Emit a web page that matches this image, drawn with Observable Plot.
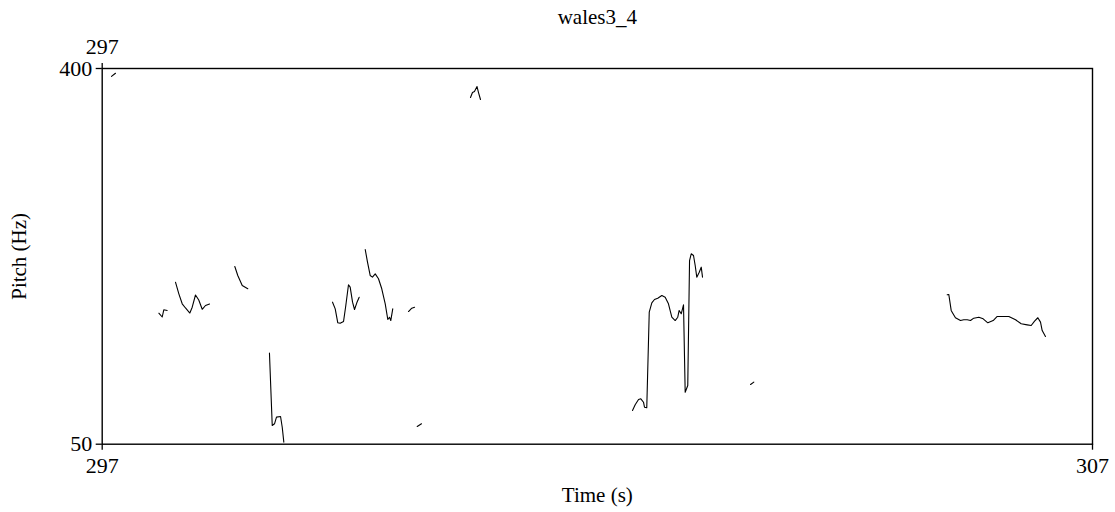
<!DOCTYPE html>
<html>
<head>
<meta charset="utf-8">
<script src="https://cdn.jsdelivr.net/npm/d3@7"></script>
<script src="https://cdn.jsdelivr.net/npm/@observablehq/plot@0.6"></script>
<style>
  html, body { margin: 0; padding: 0; background: #fff; }
  svg { display: block; }
</style>
</head>
<body>
<div id="chart"></div>
<script>
const title = "wales3_4";
const xLabel = "Time (s)";
const yLabel = "Pitch (Hz)";
const xTicks = [297, 307];
const yTicks = [50, 400];
const topTicks = [297];

// Pitch contour segments (time in s, pitch in Hz)
const segA = { t: [297.094, 297.134], f: [392.6, 395.6] };
const segB = { t: [297.572, 297.606, 297.622, 297.656], f: [172.0, 168.5, 175.2, 174.6] };
const segC = {
  t: [297.740, 297.774, 297.808, 297.841, 297.885, 297.909, 297.942, 297.975, 298.010, 298.043, 298.084],
  f: [200.9, 190.1, 180.8, 176.9, 172.2, 177.6, 189.0, 184.3, 175.7, 179.2, 180.6]
};
const segD = { t: [298.339, 298.369, 298.414, 298.470], f: [215.5, 207.2, 197.8, 194.8] };
const segE = {
  t: [298.689, 298.717, 298.740, 298.760, 298.801, 298.818, 298.834],
  f: [134.8, 67.4, 69.0, 75.2, 75.8, 65.8, 51.9]
};
const segF = {
  t: [299.326, 299.353, 299.379, 299.403, 299.437, 299.460, 299.487, 299.504, 299.528, 299.548, 299.571, 299.595],
  f: [182.3, 176.1, 163.1, 162.7, 164.3, 179.2, 198.5, 196.3, 182.3, 175.5, 181.7, 186.9]
};
const segG = {
  t: [299.656, 299.679, 299.706, 299.729, 299.757, 299.790, 299.823, 299.858, 299.884, 299.901, 299.914, 299.934],
  f: [231.4, 219.6, 207.2, 205.6, 208.7, 204.1, 194.8, 180.8, 166.2, 168.3, 165.2, 176.1]
};
const segH = { t: [300.093, 300.126, 300.154], f: [173.6, 176.7, 177.6] };
const segI = { t: [300.181, 300.224], f: [66.5, 69.0] };
const segJ = {
  t: [300.719, 300.739, 300.759, 300.785, 300.800, 300.820],
  f: [373.0, 377.6, 378.6, 383.2, 377.6, 371.1]
};
const segK = {
  t: [302.355, 302.382, 302.416, 302.439, 302.466, 302.476, 302.499, 302.524, 302.550, 302.577, 302.610,
      302.651, 302.685, 302.718, 302.752, 302.786, 302.812, 302.826, 302.847, 302.870, 302.887, 302.913,
      302.931, 302.948, 302.971, 302.988, 303.004, 303.029, 303.049, 303.062],
  f: [81.4, 86.7, 91.6, 92.3, 89.1, 84.5, 83.9, 173.0, 181.7, 184.8, 186.0,
      188.5, 186.9, 180.8, 168.3, 165.2, 168.3, 174.6, 171.5, 179.9, 98.4, 104.7,
      221.1, 227.4, 225.8, 216.5, 205.6, 210.2, 214.9, 205.6]
};
const segL = { t: [303.547, 303.580], f: [105.6, 107.8] };
const segM = {
  t: [305.533, 305.549, 305.573, 305.583, 305.616, 305.667, 305.700, 305.735, 305.768, 305.801, 305.852,
      305.896, 305.943, 305.997, 306.038, 306.088, 306.155, 306.223, 306.280, 306.341, 306.381, 306.415,
      306.448, 306.475, 306.492, 306.525],
  f: [189.2, 189.5, 174.6, 173.0, 167.8, 165.2, 165.9, 165.9, 165.2, 167.4, 168.3,
      166.8, 163.1, 165.2, 169.0, 169.0, 169.0, 165.9, 162.2, 161.2, 160.6, 164.6,
      167.8, 163.7, 155.9, 150.3]
};

const segments = { A: segA, B: segB, C: segC, D: segD, E: segE, F: segF, G: segG, H: segH, I: segI, J: segJ, K: segK, L: segL, M: segM };
const points = [];
for (const [name, s] of Object.entries(segments)) {
  s.t.forEach((t, i) => points.push({ seg: name, t, f: s.f[i] }));
}

const font = "'Liberation Serif', 'Times New Roman', serif";
const chart = Plot.plot({
  width: 1115,
  height: 512,
  marginLeft: 101.7,
  marginRight: 23,
  marginTop: 68,
  marginBottom: 68.3,
  style: { fontFamily: font, fontSize: "22px", color: "black", background: "white" },
  x: { domain: [297, 307] },
  y: { domain: [50, 400] },
  marks: [
    Plot.line(points, { x: "t", y: "f", z: "seg", stroke: "black", strokeWidth: 1.1 }),
    Plot.frame({ stroke: "black", strokeWidth: 1.4 }),
    Plot.axisY({ ticks: yTicks, tickSize: 6, tickPadding: 4, tickFormat: d => String(d), label: null, fontSize: 22, fontFamily: font, strokeWidth: 1.3 }),
    Plot.axisX({ ticks: xTicks, anchor: "bottom", tickSize: 6, tickPadding: 7, tickFormat: d => String(d), label: null, fontSize: 22, fontFamily: font, strokeWidth: 1.3 }),
    Plot.axisX({ ticks: topTicks, anchor: "top", tickSize: 6, tickPadding: 9, tickFormat: d => String(d), label: null, fontSize: 22, fontFamily: font, strokeWidth: 1.3 }),
    Plot.text([title], { frameAnchor: "top", dy: -51, fontSize: 21, fontFamily: font, textAnchor: "middle", lineAnchor: "middle" }),
    Plot.text([xLabel], { frameAnchor: "bottom", dy: 51, fontSize: 21, fontFamily: font, textAnchor: "middle", lineAnchor: "middle" }),
    Plot.text([yLabel], { frameAnchor: "left", dx: -83, rotate: -90, fontSize: 21, fontFamily: font, textAnchor: "middle", lineAnchor: "middle" })
  ]
});
document.getElementById("chart").appendChild(chart);
</script>
</body>
</html>
